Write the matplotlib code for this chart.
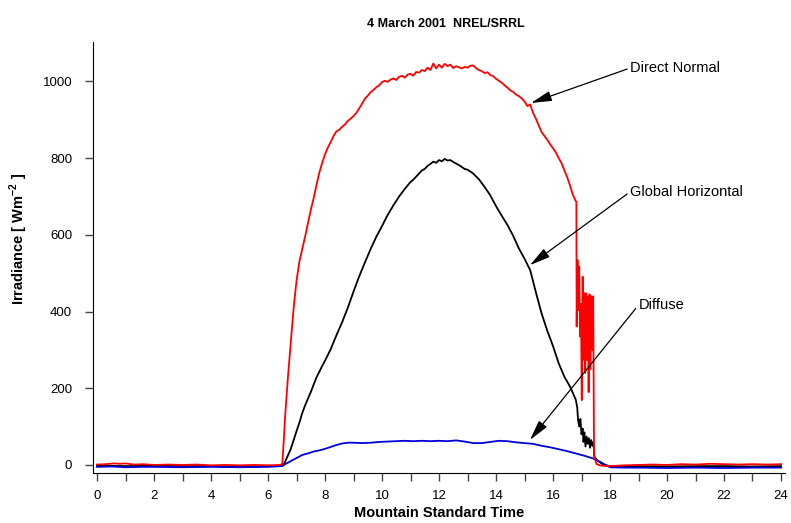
import matplotlib
matplotlib.use("Agg")
import matplotlib.pyplot as plt

plt.rcParams['font.family'] = ['Liberation Sans', 'DejaVu Sans']

# Direct Normal (red)
t_dn = [0.0, 0.3, 0.6, 0.8, 1.0, 1.3, 1.6, 2.0, 2.5, 3.0,
        3.5, 4.0, 4.5, 5.0, 5.5, 6.0, 6.4, 6.5, 6.55, 6.6,
        6.7, 6.8, 6.9, 7.0, 7.1, 7.2, 7.3, 7.4, 7.5, 7.6,
        7.7, 7.8, 7.9, 8.0, 8.1, 8.2, 8.3, 8.4, 8.5, 8.6,
        8.7, 8.8, 8.9, 9.0, 9.1, 9.2, 9.3, 9.4, 9.5, 9.6,
        9.7, 9.8, 9.9, 10.0, 10.1, 10.2, 10.3, 10.4, 10.5, 10.6,
        10.7, 10.8, 10.9, 11.0, 11.1, 11.2, 11.3, 11.4, 11.5, 11.6,
        11.7, 11.8, 11.9, 12.0, 12.1, 12.2, 12.3, 12.4, 12.5, 12.6,
        12.7, 12.8, 12.9, 13.0, 13.1, 13.2, 13.3, 13.4, 13.5, 13.6,
        13.7, 13.8, 13.9, 14.0, 14.1, 14.2, 14.3, 14.4, 14.5, 14.6,
        14.7, 14.8, 14.9, 15.0, 15.1, 15.2, 15.3, 15.4, 15.5, 15.6,
        15.7, 15.8, 15.9, 16.0, 16.1, 16.2, 16.3, 16.4, 16.5, 16.6,
        16.7, 16.8, 16.82, 16.83, 16.86, 16.89, 16.92, 16.95, 16.98, 17.01,
        17.04, 17.07, 17.1, 17.13, 17.16, 17.19, 17.22, 17.25, 17.28, 17.31,
        17.34, 17.38, 17.41, 17.44, 17.53, 17.7, 18.0, 18.5, 19.0, 19.5,
        20.0, 20.5, 21.0, 21.5, 22.0, 22.5, 23.0, 23.5, 24.0]
direct_normal = [1, 2, 4, 3, 4, 1, 2, 0, 1, 0,
                 1, -1, 0, -1, 0, -1, 0, 2, 60, 126,
                 230, 320, 410, 480, 530, 562, 595, 630, 665, 695,
                 730, 762, 788, 810, 828, 842, 858, 870, 874, 882,
                 888, 897, 903, 910, 918, 930, 942, 955, 963, 972,
                 978, 985, 990, 998, 1002, 999, 1005, 1008, 1004, 1012,
                 1015, 1010, 1018, 1020, 1015, 1025, 1023, 1030, 1027, 1036,
                 1030, 1047, 1034, 1044, 1036, 1046, 1040, 1044, 1035, 1040,
                 1037, 1034, 1038, 1036, 1041, 1042, 1035, 1030, 1027, 1022,
                 1024, 1017, 1014, 1007, 1002, 997, 990, 984, 977, 973,
                 966, 962, 956, 948, 936, 940, 918, 903, 885, 868,
                 858, 848, 836, 826, 815, 800, 787, 768, 750, 728,
                 704, 688, 686, 361, 534, 404, 517, 335, 420, 169,
                 491, 274, 448, 240, 448, 274, 439, 190, 445, 250,
                 440, 300, 440, 22, 2, -2, -3, -1, 0, 1,
                 0, 2, 1, 3, 2, 1, 2, 1, 2]

# Global Horizontal (black)
t_gh = [0.0, 1.0, 2.0, 3.0, 4.0, 5.0, 6.0, 6.5, 6.54, 6.6,
        6.7, 6.8, 6.9, 7.0, 7.1, 7.2, 7.3, 7.5, 7.7, 7.9,
        8.0, 8.2, 8.4, 8.6, 8.8, 9.0, 9.2, 9.4, 9.6, 9.8,
        10.0, 10.2, 10.4, 10.6, 10.8, 11.0, 11.1, 11.2, 11.3, 11.4,
        11.5, 11.6, 11.7, 11.8, 11.9, 12.0, 12.1, 12.2, 12.3, 12.4,
        12.5, 12.6, 12.7, 12.8, 12.9, 13.0, 13.2, 13.4, 13.6, 13.8,
        14.0, 14.2, 14.4, 14.6, 14.8, 15.0, 15.2, 15.4, 15.6, 15.8,
        16.0, 16.2, 16.4, 16.6, 16.8, 16.85, 16.88, 16.92, 16.96, 17.0,
        17.04, 17.07, 17.1, 17.14, 17.18, 17.22, 17.26, 17.3, 17.34, 17.38,
        17.42, 17.45, 17.55, 17.7, 17.8, 18.0, 19.0, 20.0, 21.0, 22.0,
        23.0, 24.0]
global_horizontal = [-2, -3, -2, -3, -3, -4, -3, -2, 0, 8,
                     25, 42, 65, 88, 110, 135, 155, 190, 228, 258,
                     272, 302, 338, 372, 410, 452, 492, 528, 563, 595,
                     623, 652, 677, 700, 720, 738, 744, 752, 760, 768,
                     772, 780, 785, 791, 788, 795, 792, 798, 794, 795,
                     790, 786, 782, 777, 772, 770, 760, 745, 725, 703,
                     675, 650, 626, 598, 565, 538, 508, 450, 395, 350,
                     310, 265, 230, 204, 170, 150, 117, 100, 120, 80,
                     95, 60, 85, 48, 74, 55, 70, 45, 65, 50,
                     60, 22, 12, 4, 0, -3, -3, -4, -3, -3,
                     -4, -3]

# Diffuse (blue)
t_df = [0.0, 0.5, 1.0, 1.5, 2.0, 3.0, 4.0, 5.0, 6.0, 6.5,
        6.6, 6.8, 7.0, 7.2, 7.4, 7.6, 7.8, 8.0, 8.2, 8.4,
        8.6, 8.8, 9.0, 9.3, 9.6, 9.9, 10.2, 10.5, 10.8, 11.1,
        11.4, 11.7, 12.0, 12.3, 12.6, 12.9, 13.2, 13.5, 13.8, 14.1,
        14.4, 14.7, 15.0, 15.3, 15.6, 15.9, 16.2, 16.5, 16.8, 17.1,
        17.4, 17.6, 17.8, 17.9, 18.0, 18.5, 19.0, 20.0, 21.0, 22.0,
        23.0, 24.0]
diffuse = [-5, -4, -6, -5, -5, -6, -5, -6, -5, -3,
           2, 10, 18, 26, 30, 35, 38, 42, 47, 52,
           56, 58, 58, 57, 58, 60, 61, 62, 63, 62,
           63, 62, 63, 62, 64, 61, 57, 57, 60, 63,
           62, 59, 57, 55, 50, 46, 41, 36, 30, 24,
           17, 10, 2, -2, -6, -7, -7, -8, -7, -8,
           -7, -7]

labels = ["Direct Normal", "Global Horizontal", "Diffuse"]
label_pos = [(18.7, 1035), (18.7, 712), (19.0, 417)]
arrow_tips = [(15.23, 944), (15.19, 521), (15.19, 65)]

fig = plt.figure(figsize=(7.91, 5.23), dpi=100)
ax = fig.add_axes([0.1176, 0.0956, 0.8748, 0.8241])

ax.plot(t_gh, global_horizontal, color="black", lw=1.3)
ax.plot(t_df, diffuse, color="#0000dd", lw=1.3)
ax.plot(t_dn, direct_normal, color="red", lw=1.3)

for lab, pos, tip in zip(labels, label_pos, arrow_tips):
    ax.annotate(lab, xy=tip, xytext=pos, fontsize=10.5, ha="left", va="center",
                arrowprops=dict(arrowstyle="-|>,head_length=0.9,head_width=0.22",
                                color="black", lw=0.9, shrinkA=0, shrinkB=0,
                                relpos=(0, 0.5), mutation_scale=14))

ax.set_xlim(-0.14, 24.14)
ax.set_ylim(-21, 1103)
ax.set_xticks(range(0, 25, 2))
ax.set_xticks(range(1, 25, 2), minor=True)
ax.set_yticks(range(0, 1001, 200))
ax.tick_params(axis="both", which="both", direction="out", length=6,
               width=1, color="#444444", labelsize=9.5)
ax.tick_params(axis="x", pad=6)
ax.tick_params(axis="y", pad=9)
for side in ["top", "right"]:
    ax.spines[side].set_visible(False)

ax.set_xlabel("Mountain Standard Time", fontsize=10.5, fontweight="bold", labelpad=3)
ax.set_ylabel("Irradiance [ Wm$^{\\mathregular{-2}}$ ]", fontsize=10.5,
              fontweight="bold")
ax.yaxis.set_label_coords(-0.091, 0.543)
fig.suptitle("4 March 2001  NREL/SRRL", x=0.563, y=0.965, fontsize=9,
             fontweight="bold")

fig.savefig("out.png", dpi=100)
